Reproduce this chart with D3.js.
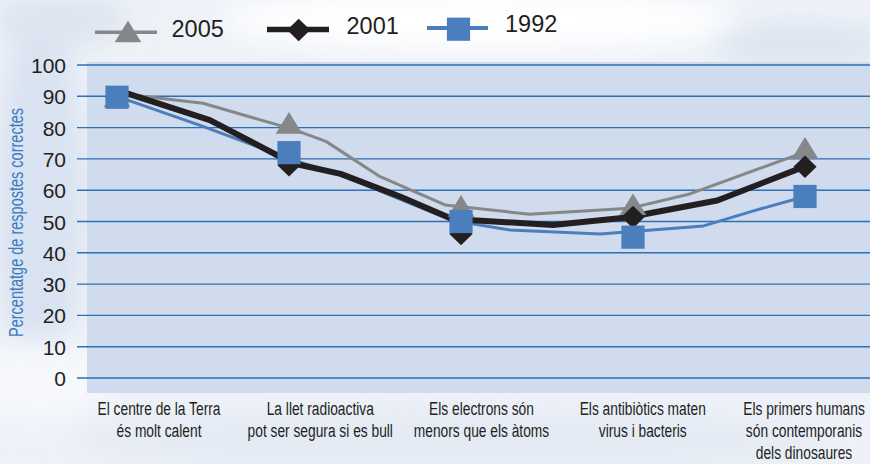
<!DOCTYPE html>
<html><head><meta charset="utf-8">
<script src="https://cdn.jsdelivr.net/npm/d3@7"></script>
<style>body{margin:0;background:#fff}svg{display:block}</style>
</head><body>
<svg id="c" width="870" height="464"></svg>
<script>
// ---------- data ----------
const categories = [
  ["El centre de la Terra", "és molt calent"],
  ["La llet radioactiva", "pot ser segura si es bull"],
  ["Els electrons són", "menors que els àtoms"],
  ["Els antibiòtics maten", "virus i bacteris"],
  ["Els primers humans", "són contemporanis", "dels dinosaures"]
];
const years = ["2005", "2001", "1992"];
const values2005 = [89, 80.5, 54, 54.5, 72.5];
const values2001 = [89.7, 68, 46, 51.4, 67.5];
const values1992 = [89.7, 72, 50, 45, 58];
// line traces as drawn in the picture: [category position, value]
const trace2005 = [[0,91],[0.5,87.8],[1.02,79.5],[1.215,75.6],[1.53,64.3],[1.907,55.3],[2.40,52.3],[2.98,54.2],[3.33,58.8],[4.01,72.4]];
const trace2001 = [[0,92],[0.54,82.4],[1.02,68.6],[1.30,65.2],[1.645,58],[1.95,50.8],[2.535,48.9],[2.965,51.3],[3.49,56.7],[4,67.6]];
const trace1992 = [[0,90],[0.5,80.4],[1.02,69.7],[1.30,64.9],[1.95,50.3],[2.285,47.3],[2.81,46],[3.41,48.6],[3.72,53.7],[4,58]];
const yTicks = [0, 10, 20, 30, 40, 50, 60, 70, 80, 90, 100];
const yTitle = "Percentatge de respostes correctes";

// ---------- layout ----------
const svg = d3.select("#c");
const W = 870, H = 464;
const x = d3.scaleLinear().domain([0, 4]).range([117, 805]);
const xLab = d3.scaleLinear().domain([0, 4]).range([159, 804]);
const y = d3.scaleLinear().domain([0, 100]).range([378, 65]);

const ink = "#231f20", gridC = "#2f6fb3", bgPlot = "#d0dbee";
const colors = {"2005": "#858788", "2001": "#231f20", "1992": "#4a7ebd"};

// background
const defs = svg.append("defs");
defs.append("filter").attr("id", "blur").attr("x", "-50%").attr("y", "-50%").attr("width", "200%").attr("height", "200%")
  .append("feGaussianBlur").attr("stdDeviation", 14);
svg.append("rect").attr("width", W).attr("height", H).attr("fill", "#eef2f8");
const bgG = svg.append("g").attr("filter", "url(#blur)");
bgG.append("ellipse").attr("cx", 480).attr("cy", 20).attr("rx", 260).attr("ry", 30).attr("fill", "#ffffff");
bgG.append("ellipse").attr("cx", 40).attr("cy", 200).attr("rx", 45).attr("ry", 180).attr("fill", "#d9e2f1");
bgG.append("ellipse").attr("cx", 40).attr("cy", 380).attr("rx", 70).attr("ry", 40).attr("fill", "#f6f8fc");
bgG.append("ellipse").attr("cx", 60).attr("cy", 20).attr("rx", 70).attr("ry", 25).attr("fill", "#dde4f0");
bgG.append("ellipse").attr("cx", 800).attr("cy", 45).attr("rx", 90).attr("ry", 20).attr("fill", "#dbe3f0");
bgG.append("ellipse").attr("cx", 450).attr("cy", 440).attr("rx", 380).attr("ry", 30).attr("fill", "#e4eaf4");

// plot background
svg.append("rect").attr("x", 87).attr("y", 62).attr("width", W - 87).attr("height", 331).attr("fill", bgPlot);

// gridlines + y tick labels
const yAxis = d3.axisLeft(y).tickValues(yTicks).tickSize(0).tickPadding(0);
const gy = svg.append("g").attr("transform", "translate(66,0)").call(yAxis);
gy.select(".domain").remove();
gy.selectAll("text").attr("font-family", "Liberation Sans, Arial, sans-serif")
  .attr("font-size", 21).attr("fill", ink).attr("x", 0).attr("dy", "0.36em");
svg.append("g").selectAll("line").data(yTicks).join("line")
  .attr("x1", 77).attr("x2", W).attr("y1", d => y(d)).attr("y2", d => y(d))
  .attr("stroke", gridC).attr("stroke-width", 1.4);

// y title
svg.append("text").attr("transform", "translate(23,222.5) rotate(-90)")
  .attr("text-anchor", "middle").attr("font-family", "Liberation Sans, Arial, sans-serif")
  .attr("font-size", 20).attr("fill", "#3c7cc2")
  .attr("textLength", 229).attr("lengthAdjust", "spacingAndGlyphs").text(yTitle);

// x labels
const baselines = [414.5, 436.5, 458.5];
const lab = svg.append("g").selectAll("g").data(categories).join("g")
  .attr("transform", (d, i) => `translate(${xLab(i)},0)`);
lab.selectAll("text").data(d => d).join("text")
  .attr("transform", (d, j) => `translate(0,${baselines[j]}) scale(0.725,1)`)
  .attr("text-anchor", "middle").attr("font-family", "Liberation Sans, Arial, sans-serif")
  .attr("font-size", 19).attr("fill", ink).text(d => d);

// lines
const line = d3.line().x(d => x(d[0])).y(d => y(d[1]));
svg.append("path").datum(trace1992).attr("d", line).attr("fill", "none")
  .attr("stroke", colors["1992"]).attr("stroke-width", 3).attr("stroke-linejoin", "round");
svg.append("path").datum(trace2005).attr("d", line).attr("fill", "none")
  .attr("stroke", colors["2005"]).attr("stroke-width", 3).attr("stroke-linejoin", "round");
svg.append("path").datum(trace2001).attr("d", line).attr("fill", "none")
  .attr("stroke", colors["2001"]).attr("stroke-width", 6).attr("stroke-linejoin", "round");

// marker shapes
const triPath = "M0,-14 L13.3,7.7 L-13.3,7.7 Z";
const diaPath = "M0,-11.3 L11.6,0 L0,11.3 L-11.6,0 Z";
const sqPath = "M-11.6,-11.6 H11.6 V11.6 H-11.6 Z";

svg.append("g").selectAll("path").data(values2005).join("path")
  .attr("transform", (d, i) => `translate(${x(i)},${y(d)})`).attr("d", triPath).attr("fill", colors["2005"]);
svg.append("g").selectAll("path").data(values2001).join("path")
  .attr("transform", (d, i) => `translate(${x(i)},${y(d)})`).attr("d", diaPath).attr("fill", colors["2001"]);
svg.append("g").selectAll("path").data(values1992).join("path")
  .attr("transform", (d, i) => `translate(${x(i)},${y(d)})`).attr("d", sqPath).attr("fill", colors["1992"]);

// legend
const legend = [
  {key: "2005", x0: 95, x1: 157, ly: 32.3, mx: 128, my: 34.5, shape: triPath, sw: 3.5, tx: 171.5, ty: 37.3},
  {key: "2001", x0: 267, x1: 329, ly: 29.5, mx: 298.7, my: 30, shape: diaPath, sw: 5.5, tx: 346.5, ty: 34.3},
  {key: "1992", x0: 427, x1: 488, ly: 28, mx: 458.5, my: 29.2, shape: sqPath, sw: 4, tx: 505, ty: 31.7}
];
const lg = svg.append("g").selectAll("g").data(legend).join("g");
lg.append("line").attr("x1", d => d.x0).attr("x2", d => d.x1).attr("y1", d => d.ly).attr("y2", d => d.ly)
  .attr("stroke", d => colors[d.key]).attr("stroke-width", d => d.sw);
lg.append("path").attr("d", d => d.shape).attr("transform", d => `translate(${d.mx},${d.my})`)
  .attr("fill", d => colors[d.key]);
lg.append("text").attr("x", d => d.tx).attr("y", d => d.ty)
  .attr("font-family", "Liberation Sans, Arial, sans-serif").attr("font-size", 23.5).attr("fill", ink)
  .text(d => d.key);
</script>
</body></html>
